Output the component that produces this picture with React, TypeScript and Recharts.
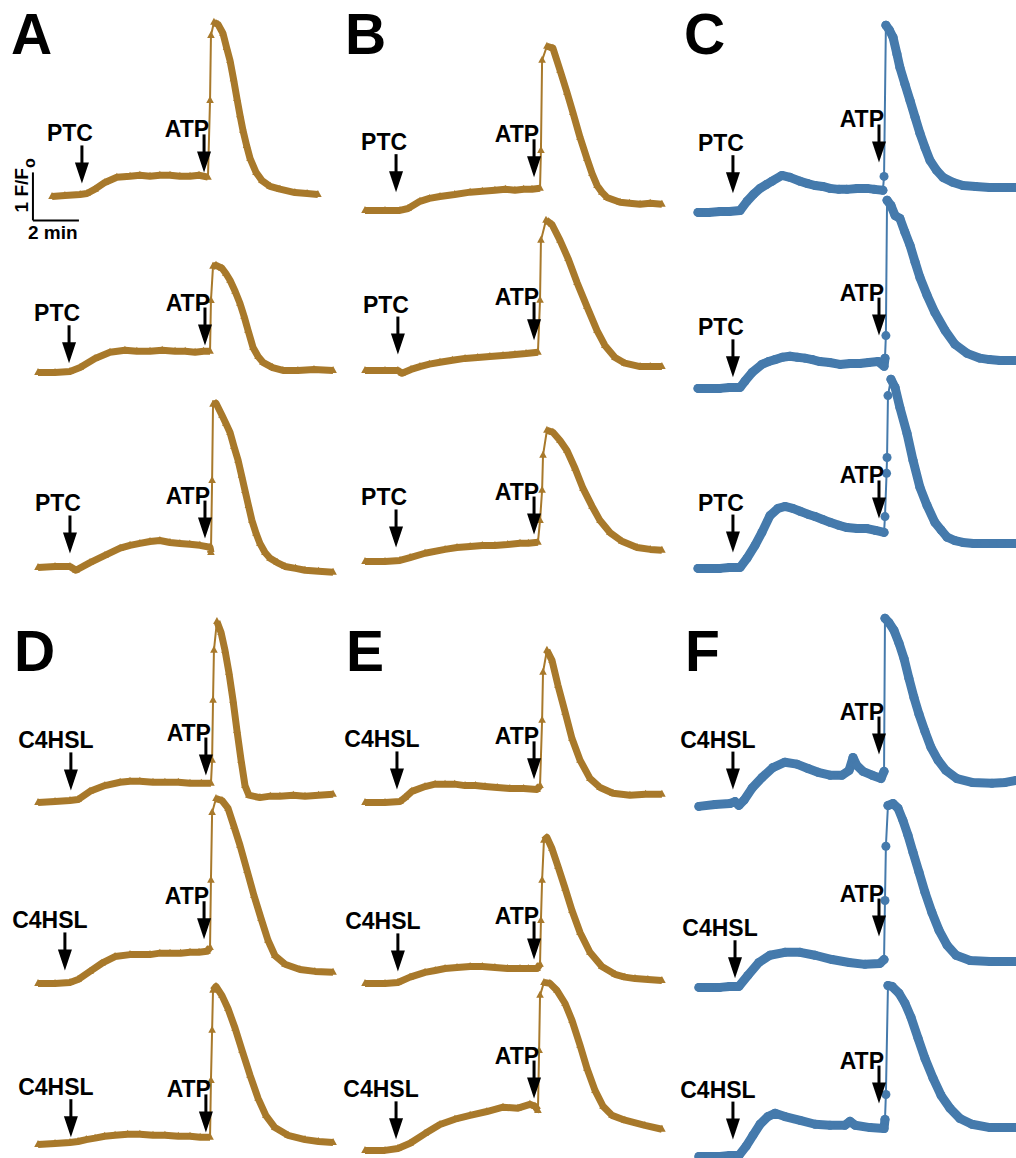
import { LineChart, Line, XAxis, YAxis, ReferenceDot, ReferenceLine } from "recharts";

type Pt = [number, number];

const GOLD = "#a8792b";
const BLUE = "#457aac";
const FONT = "'Liberation Sans', Arial, sans-serif";

// drawing scale: pixels per minute and per unit of F/Fo
const PX_MIN = 23;
const PX_F = 48;
const T_MIN = -2.0;
const T_MAX = 14.4;
const V_MIN = -1.2;
const V_MAX = 4.3;

// traces: [time (min), change in F/Fo]
const A1: Pt[] = [[0.61,0],[1.17,0.02],[1.83,0.04],[2.13,0.06],[2.48,0.15],[2.91,0.29],[3.43,0.4],[4.0,0.42],[4.43,0.44],[4.87,0.42],[5.3,0.44],[5.74,0.44],[6.17,0.42],[6.61,0.42],[7.0,0.44],[7.39,0.4],[7.48,2.0],[7.52,3.35],[7.65,3.63],[7.83,3.58],[8.04,3.4],[8.2,3.1],[8.35,2.83],[8.5,2.45],[8.65,2.04],[8.78,1.7],[8.91,1.38],[9.07,1.06],[9.22,0.79],[9.48,0.5],[9.74,0.33],[10.09,0.21],[10.52,0.15],[11.17,0.08],[11.7,0.06],[12.17,0.04]];
const A2: Pt[] = [[0,0],[0.74,0],[1.39,0.02],[1.83,0.1],[2.48,0.29],[3.13,0.42],[3.78,0.46],[4.3,0.44],[4.87,0.44],[5.4,0.46],[5.96,0.44],[6.4,0.44],[6.83,0.42],[7.2,0.44],[7.48,0.44],[7.52,1.5],[7.61,2.21],[7.74,2.23],[8.0,2.17],[8.17,2.06],[8.35,1.92],[8.57,1.69],[8.78,1.44],[8.96,1.17],[9.13,0.88],[9.35,0.52],[9.57,0.33],[9.78,0.21],[10.2,0.1],[10.65,0.04],[11.3,0.04],[12.0,0.06],[12.83,0.04]];
const A3: Pt[] = [[0,0],[0.74,0.02],[1.39,0.02],[1.65,-0.06],[2.26,0.1],[2.91,0.25],[3.57,0.4],[4.0,0.46],[4.43,0.5],[4.87,0.54],[5.3,0.56],[5.74,0.52],[6.17,0.5],[6.6,0.48],[7.04,0.46],[7.48,0.42],[7.52,0.31],[7.57,1.81],[7.61,3.4],[7.74,3.42],[8.0,3.17],[8.17,3.0],[8.35,2.81],[8.52,2.52],[8.7,2.23],[8.85,1.92],[9.0,1.6],[9.15,1.29],[9.3,0.98],[9.48,0.71],[9.65,0.5],[9.87,0.31],[10.09,0.19],[10.4,0.1],[10.74,0.02],[11.2,-0.02],[11.61,-0.06],[12.2,-0.08],[12.83,-0.1]];

const B1: Pt[] = [[0,0],[0.87,0],[1.52,0],[1.87,0.04],[2.39,0.19],[2.8,0.25],[3.26,0.29],[3.9,0.33],[4.57,0.38],[5.1,0.4],[5.65,0.42],[6.1,0.44],[6.52,0.42],[6.9,0.44],[7.26,0.44],[7.61,0.46],[7.65,1.25],[7.7,3.13],[7.91,3.42],[8.17,3.38],[8.48,2.92],[8.78,2.46],[9.04,2.04],[9.35,1.52],[9.65,1.08],[9.87,0.77],[10.09,0.52],[10.3,0.38],[10.52,0.27],[11.09,0.17],[11.5,0.15],[11.96,0.13],[12.4,0.15],[12.91,0.13]];
const B2: Pt[] = [[0,0],[0.87,0],[1.43,0],[1.61,-0.06],[2.0,0.02],[2.39,0.08],[2.8,0.13],[3.26,0.17],[3.8,0.21],[4.35,0.25],[4.9,0.27],[5.43,0.29],[6.0,0.31],[6.52,0.33],[7.0,0.35],[7.52,0.38],[7.61,1.46],[7.65,2.71],[7.87,3.13],[8.13,3.04],[8.48,2.71],[8.83,2.33],[9.22,1.83],[9.65,1.33],[10.09,0.83],[10.43,0.52],[10.87,0.27],[11.3,0.15],[11.96,0.08],[12.4,0.08],[12.91,0.08]];
const B3: Pt[] = [[0,0],[0.87,0],[1.52,0.02],[1.96,0.08],[2.61,0.17],[3.48,0.25],[4.0,0.29],[4.57,0.31],[5.1,0.33],[5.65,0.33],[6.2,0.35],[6.74,0.38],[7.1,0.38],[7.52,0.4],[7.61,0.85],[7.7,1.48],[7.74,2.21],[7.91,2.73],[8.17,2.69],[8.48,2.52],[8.78,2.31],[9.13,1.94],[9.48,1.52],[9.87,1.15],[10.22,0.85],[10.65,0.6],[11.17,0.42],[11.83,0.29],[12.4,0.25],[12.91,0.23]];

const C1: Pt[] = [[0.13,0],[0.6,0],[1.09,0.02],[1.5,0.02],[1.96,0.04],[2.26,0.23],[2.55,0.38],[2.83,0.5],[3.1,0.58],[3.35,0.65],[3.78,0.77],[4.13,0.73],[4.57,0.65],[4.9,0.6],[5.22,0.56],[5.55,0.54],[5.87,0.5],[6.25,0.48],[6.61,0.48],[7.05,0.5],[7.48,0.5],[7.8,0.48],[8.17,0.46],[8.22,0.75],[8.3,3.9],[8.45,3.8],[8.61,3.65],[8.78,3.3],[8.91,3.02],[9.13,2.67],[9.35,2.33],[9.57,1.98],[9.78,1.65],[10.0,1.35],[10.22,1.08],[10.5,0.88],[10.78,0.73],[11.2,0.63],[11.65,0.56],[12.2,0.54],[12.8,0.52],[13.4,0.52],[13.96,0.52]];
const C2: Pt[] = [[0.13,0],[0.6,0],[1.09,0],[1.5,0.02],[1.96,0.02],[2.17,0.15],[2.48,0.33],[2.91,0.5],[3.2,0.56],[3.48,0.6],[3.8,0.65],[4.13,0.67],[4.45,0.65],[4.78,0.63],[5.1,0.6],[5.43,0.56],[5.85,0.54],[6.3,0.5],[6.75,0.52],[7.17,0.52],[7.55,0.54],[7.96,0.56],[8.22,0.46],[8.26,0.63],[8.3,1.1],[8.35,3.92],[8.52,3.81],[8.7,3.6],[8.91,3.54],[9.13,3.25],[9.35,2.98],[9.57,2.63],[9.78,2.31],[10.09,1.94],[10.43,1.58],[10.87,1.21],[11.3,0.92],[11.83,0.73],[12.39,0.63],[12.8,0.6],[13.26,0.58],[13.96,0.58]];
const C3: Pt[] = [[0.13,0],[0.6,0],[1.09,0],[1.5,0.02],[1.96,0.02],[2.26,0.21],[2.61,0.48],[2.91,0.75],[3.26,1.1],[3.61,1.25],[3.91,1.29],[4.25,1.25],[4.57,1.19],[4.9,1.13],[5.22,1.08],[5.55,1.02],[5.87,0.96],[6.25,0.9],[6.61,0.85],[7.05,0.83],[7.48,0.83],[7.85,0.79],[8.22,0.75],[8.26,1.08],[8.33,1.98],[8.35,2.31],[8.39,3.6],[8.52,3.94],[8.7,3.77],[8.91,3.35],[9.22,2.81],[9.48,2.25],[9.78,1.69],[10.09,1.31],[10.43,0.96],[10.7,0.8],[10.96,0.65],[11.3,0.58],[11.65,0.54],[12.1,0.52],[12.61,0.52],[13.3,0.52],[13.96,0.52]];

const D1: Pt[] = [[0,0],[0.74,0.02],[1.39,0.04],[1.74,0.06],[2.26,0.23],[2.91,0.35],[3.57,0.42],[4.0,0.44],[4.43,0.44],[5.0,0.42],[5.52,0.42],[6.1,0.42],[6.61,0.4],[7.1,0.4],[7.52,0.4],[7.57,0.88],[7.61,2.13],[7.65,3.17],[7.78,3.77],[7.96,3.54],[8.13,3.17],[8.3,2.71],[8.48,2.13],[8.65,1.5],[8.83,0.88],[9.0,0.35],[9.17,0.15],[9.65,0.1],[10.1,0.13],[10.52,0.13],[11.1,0.15],[11.61,0.13],[12.2,0.15],[12.83,0.17]];
const D2: Pt[] = [[0,0],[0.74,0],[1.39,0.02],[1.74,0.08],[2.26,0.25],[2.78,0.42],[3.35,0.56],[4.0,0.6],[4.87,0.6],[5.3,0.63],[5.74,0.63],[6.2,0.63],[6.61,0.65],[7.0,0.65],[7.35,0.67],[7.48,0.75],[7.52,2.15],[7.57,3.56],[7.74,3.85],[8.0,3.81],[8.26,3.65],[8.52,3.27],[8.78,2.88],[9.09,2.35],[9.39,1.83],[9.7,1.35],[10.0,0.9],[10.3,0.58],[10.74,0.4],[11.39,0.29],[12.04,0.25],[12.83,0.23]];
const D3: Pt[] = [[0,0],[0.74,0.02],[1.39,0.04],[1.74,0.06],[2.1,0.1],[2.48,0.13],[2.9,0.17],[3.35,0.19],[3.9,0.21],[4.43,0.21],[5.0,0.19],[5.52,0.19],[6.1,0.17],[6.61,0.17],[7.05,0.15],[7.48,0.15],[7.52,1.33],[7.57,2.38],[7.61,3.21],[7.74,3.29],[8.0,3.1],[8.26,2.83],[8.57,2.42],[8.87,1.96],[9.22,1.44],[9.57,0.96],[9.91,0.6],[10.3,0.35],[10.87,0.19],[11.61,0.1],[12.2,0.06],[12.83,0.04]];

const E1: Pt[] = [[0,0],[0.87,0],[1.52,0.02],[1.74,0.1],[2.04,0.23],[2.61,0.33],[3.05,0.38],[3.48,0.38],[3.9,0.38],[4.35,0.35],[4.8,0.35],[5.22,0.33],[5.75,0.31],[6.3,0.29],[6.9,0.29],[7.48,0.27],[7.61,0.35],[7.7,1.71],[7.74,2.71],[7.91,3.17],[8.13,2.96],[8.39,2.44],[8.7,1.88],[9.0,1.33],[9.35,0.88],[9.78,0.5],[10.22,0.31],[10.78,0.19],[11.52,0.15],[12.2,0.17],[12.91,0.17]];
const E2: Pt[] = [[0,0],[0.87,0],[1.43,0.02],[1.96,0.13],[2.61,0.23],[3.05,0.27],[3.48,0.31],[4.0,0.33],[4.57,0.35],[5.1,0.35],[5.65,0.33],[6.2,0.31],[6.74,0.31],[7.1,0.31],[7.48,0.31],[7.61,0.4],[7.65,1.31],[7.7,2.15],[7.78,2.98],[7.91,3.04],[8.13,2.81],[8.39,2.44],[8.7,1.98],[9.0,1.52],[9.35,1.06],[9.78,0.65],[10.3,0.35],[10.87,0.19],[11.3,0.13],[11.74,0.1],[12.3,0.08],[12.91,0.06]];
const E3: Pt[] = [[0,0],[0.87,0],[1.43,0.04],[1.96,0.15],[2.61,0.35],[3.26,0.54],[3.91,0.65],[4.57,0.73],[5.3,0.81],[6.0,0.9],[6.65,0.88],[7.17,0.96],[7.39,0.92],[7.52,0.83],[7.57,2.08],[7.61,3.23],[7.78,3.5],[8.04,3.48],[8.35,3.33],[8.7,3.06],[9.0,2.71],[9.35,2.19],[9.65,1.71],[10.0,1.25],[10.35,0.92],[10.74,0.73],[11.3,0.63],[12.17,0.52],[12.91,0.44]];

const F1: Pt[] = [[0.17,0],[0.87,0.04],[1.52,0.06],[1.74,0.1],[1.91,0.02],[2.13,0.13],[2.48,0.38],[2.91,0.6],[3.39,0.81],[3.91,0.92],[4.43,0.88],[4.91,0.79],[5.35,0.71],[5.87,0.65],[6.39,0.65],[6.7,0.75],[6.87,1.02],[7.04,0.85],[7.3,0.73],[7.7,0.65],[8.09,0.58],[8.22,0.73],[8.26,3.92],[8.43,3.83],[8.65,3.67],[8.87,3.4],[9.09,3.08],[9.3,2.67],[9.52,2.27],[9.74,1.92],[10.0,1.56],[10.26,1.23],[10.57,0.96],[10.91,0.75],[11.39,0.58],[12.04,0.5],[12.91,0.48],[13.5,0.5],[13.96,0.54]];
const F2: Pt[] = [[0.17,0],[0.6,0],[1.09,0],[1.5,0.02],[1.91,0.02],[2.3,0.25],[2.78,0.52],[3.26,0.67],[3.91,0.73],[4.57,0.73],[5.22,0.67],[5.96,0.58],[6.7,0.52],[7.39,0.48],[8.04,0.5],[8.22,0.58],[8.26,1.81],[8.3,2.94],[8.39,3.79],[8.61,3.83],[8.83,3.73],[9.04,3.48],[9.26,3.17],[9.48,2.81],[9.74,2.4],[10.0,1.98],[10.3,1.56],[10.61,1.19],[10.96,0.88],[11.35,0.67],[11.96,0.56],[12.83,0.54],[13.4,0.54],[13.96,0.54]];
const F3: Pt[] = [[0.17,0],[0.6,0],[1.09,0],[1.5,0.02],[1.91,0.02],[2.22,0.21],[2.52,0.44],[2.83,0.67],[3.17,0.83],[3.48,0.9],[3.91,0.83],[4.57,0.75],[5.22,0.67],[5.87,0.65],[6.52,0.65],[6.74,0.73],[6.96,0.65],[7.61,0.6],[8.22,0.58],[8.26,0.77],[8.3,1.29],[8.39,3.56],[8.57,3.54],[8.87,3.4],[9.13,3.19],[9.39,2.9],[9.7,2.46],[10.0,2.04],[10.35,1.63],[10.7,1.27],[11.09,1.0],[11.52,0.79],[12.04,0.67],[12.83,0.6],[13.4,0.6],[13.96,0.6]];

// arrow tips: [time of addition, level of the arrow tip]
const A_AGENT: Pt[] = [[1.91,0.27],[1.35,0.19],[1.39,0.29]];
const A_ATP: Pt[] = [[7.22,0.5],[7.26,0.56],[7.26,0.6]];
const B_AGENT: Pt[] = [[1.35,0.38],[1.43,0.33],[1.35,0.29]];
const B_ATP: Pt[] = [[7.35,0.69],[7.35,0.63],[7.35,0.56]];
const C_AGENT: Pt[] = [[1.65,0.4],[1.65,0.23],[1.65,0.33]];
const C_ATP: Pt[] = [[8.0,1.04],[8.0,1.1],[8.0,1.04]];
const D_AGENT: Pt[] = [[1.43,0.25],[1.17,0.27],[1.43,0.15]];
const D_ATP: Pt[] = [[7.3,0.56],[7.22,0.92],[7.3,0.25]];
const E_AGENT: Pt[] = [[1.39,0.27],[1.43,0.25],[1.35,0.23]];
const E_ATP: Pt[] = [[7.35,0.48],[7.35,0.5],[7.35,1.08]];
const F_AGENT: Pt[] = [[1.65,0.35],[1.74,0.19],[1.65,0.35]];
const F_ATP: Pt[] = [[8.0,1.08],[8.0,1.06],[8.0,1.1]];

// scale bar corner (min, F/Fo) next to panel A, top trace
const SCALE_CORNER: Pt = [-0.22, -0.5];

const PANELS = [
  { letter: "A", lx: 11, ly: 54, ox: 38, rows: [196, 372, 567], traces: [A1, A2, A3], agentName: "PTC", agent: A_AGENT, atp: A_ATP, color: GOLD },
  { letter: "B", lx: 345, ly: 54, ox: 365, rows: [210, 370, 561], traces: [B1, B2, B3], agentName: "PTC", agent: B_AGENT, atp: B_ATP, color: GOLD },
  { letter: "C", lx: 684, ly: 54, ox: 695, rows: [212, 388, 568], traces: [C1, C2, C3], agentName: "PTC", agent: C_AGENT, atp: C_ATP, color: BLUE },
  { letter: "D", lx: 14, ly: 671, ox: 38, rows: [802, 983, 1144], traces: [D1, D2, D3], agentName: "C4HSL", agent: D_AGENT, atp: D_ATP, color: GOLD },
  { letter: "E", lx: 346, ly: 671, ox: 365, rows: [802, 983, 1150], traces: [E1, E2, E3], agentName: "C4HSL", agent: E_AGENT, atp: E_ATP, color: GOLD },
  { letter: "F", lx: 685, ly: 671, ox: 695, rows: [806, 987, 1156], traces: [F1, F2, F3], agentName: "C4HSL", agent: F_AGENT, atp: F_ATP, color: BLUE },
];

const W = (T_MAX - T_MIN) * PX_MIN;
const H = (V_MAX - V_MIN) * PX_F;

const toRows = (pts: Pt[]) => pts.map(([t, v]) => ({ t, v }));

// thick band before and after the ATP jump, the jump itself stays thin
function splitAtJump(pts: Pt[]) {
  let iMax = 0;
  let best = -Infinity;
  for (let i = 0; i < pts.length - 1; i++) {
    const d = pts[i + 1][1] - pts[i][1];
    if (d > best) {
      best = d;
      iMax = i;
    }
  }
  let a = iMax;
  while (a > 0 && pts[a][1] - pts[a - 1][1] > 0.2) a--;
  let b = iMax + 1;
  while (b < pts.length - 1 && pts[b + 1][1] - pts[b][1] > 0.2) b++;
  return { pre: pts.slice(0, a + 1), post: pts.slice(b) };
}

const labelStyle = { fontFamily: FONT, fontWeight: 700, fontSize: 23 } as const;

const arrowShape = (label: string, isAtp: boolean) => (p: any) => {
  const { cx, cy } = p;
  const tx = isAtp ? cx + 5 : cx - (label.length > 3 ? 15 : 12);
  const ty = isAtp ? cy - 35 : cy - 42;
  return (
    <g>
      <text x={tx} y={ty} textAnchor={isAtp ? "end" : "middle"} fill="#000" {...labelStyle}>
        {label}
      </text>
      <line x1={cx} y1={cy - 38} x2={cx} y2={cy - 16} stroke="#000" strokeWidth={3} />
      <polygon points={`${cx - 7},${cy - 21} ${cx + 7},${cy - 21} ${cx},${cy}`} fill="#000" />
    </g>
  );
};

const scaleText = (p: any) => {
  const { cx, cy } = p;
  return (
    <g>
      <text transform={`translate(${cx - 5},${cy - 8}) rotate(-90)`} fill="#000" fontFamily={FONT} fontWeight={700} fontSize={19}>
        1 F/F<tspan dy={7} fontSize={16}>o</tspan>
      </text>
      <text x={cx - 5} y={cy + 19} fill="#000" fontFamily={FONT} fontWeight={700} fontSize={19}>
        2 min
      </text>
    </g>
  );
};

const triangle = (color: string) => (p: any) => {
  const { cx, cy, index } = p;
  if (cx == null || cy == null) return <g key={`e${index}`} />;
  return <path key={`m${index}`} d={`M${cx},${cy - 4.5}L${cx + 3.8},${cy + 2.5}L${cx - 3.8},${cy + 2.5}Z`} fill={color} />;
};

type TraceProps = {
  pts: Pt[];
  color: string;
  left: number;
  top: number;
  agentName: string;
  agent: Pt;
  atp: Pt;
};

const Trace = ({ pts, color, left, top, agentName, agent, atp }: TraceProps) => {
  const { pre, post } = splitAtJump(pts);
  const blue = color === BLUE;
  const band = blue ? 9 : 7;
  const cap = blue ? "round" : "butt";
  return (
    <div style={{ position: "absolute", left, top, width: W, height: H }}>
      <LineChart width={W} height={H} margin={{ top: 0, right: 0, bottom: 0, left: 0 }}>
        <XAxis type="number" dataKey="t" domain={[T_MIN, T_MAX]} allowDataOverflow hide />
        <YAxis type="number" dataKey="v" domain={[V_MIN, V_MAX]} allowDataOverflow hide />
        <Line data={toRows(pre)} dataKey="v" type="linear" stroke={color} strokeWidth={band} strokeLinejoin="round" strokeLinecap={cap} dot={false} activeDot={false} isAnimationActive={false} />
        <Line data={toRows(post)} dataKey="v" type="linear" stroke={color} strokeWidth={band} strokeLinejoin="round" strokeLinecap={cap} dot={false} activeDot={false} isAnimationActive={false} />
        <Line
          data={toRows(pts)}
          dataKey="v"
          type="linear"
          stroke={color}
          strokeWidth={2}
          dot={blue ? { r: 4.5, fill: color, stroke: "none", strokeWidth: 0 } : triangle(color)}
          activeDot={false}
          isAnimationActive={false}
        />
        <ReferenceDot x={agent[0]} y={agent[1]} r={0} shape={arrowShape(agentName, false)} />
        <ReferenceDot x={atp[0]} y={atp[1]} r={0} shape={arrowShape("ATP", true)} />
      </LineChart>
    </div>
  );
};

// scale bar drawn on the same scales as panel A's top trace
const ScaleBar = ({ left, top }: { left: number; top: number }) => (
  <div style={{ position: "absolute", left, top, width: W, height: H }}>
    <LineChart width={W} height={H} margin={{ top: 0, right: 0, bottom: 0, left: 0 }}>
      <XAxis type="number" dataKey="t" domain={[T_MIN, T_MAX]} allowDataOverflow hide />
      <YAxis type="number" dataKey="v" domain={[V_MIN, V_MAX]} allowDataOverflow hide />
      <ReferenceLine
        segment={[
          { x: SCALE_CORNER[0], y: SCALE_CORNER[1] + 1 },
          { x: SCALE_CORNER[0], y: SCALE_CORNER[1] },
        ]}
        stroke="#000"
        strokeWidth={2}
      />
      <ReferenceLine
        segment={[
          { x: SCALE_CORNER[0], y: SCALE_CORNER[1] },
          { x: SCALE_CORNER[0] + 2, y: SCALE_CORNER[1] },
        ]}
        stroke="#000"
        strokeWidth={2}
      />
      <ReferenceDot x={SCALE_CORNER[0]} y={SCALE_CORNER[1]} r={0} shape={scaleText} />
    </LineChart>
  </div>
);

export default function App() {
  return (
    <div style={{ position: "absolute", left: 0, top: 0, width: 1016, height: 1158, overflow: "hidden", background: "#fff" }}>
      {PANELS.map((panel) =>
        panel.traces.map((pts, k) => (
          <Trace
            key={`${panel.letter}${k}`}
            pts={pts}
            color={panel.color}
            left={panel.ox + T_MIN * PX_MIN}
            top={panel.rows[k] - V_MAX * PX_F}
            agentName={panel.agentName}
            agent={panel.agent[k]}
            atp={panel.atp[k]}
          />
        ))
      )}
      <ScaleBar left={PANELS[0].ox + T_MIN * PX_MIN} top={PANELS[0].rows[0] - V_MAX * PX_F} />
      <svg width={1016} height={1158} style={{ position: "absolute", left: 0, top: 0, pointerEvents: "none" }}>
        {PANELS.map((panel) => (
          <text key={panel.letter} x={panel.lx} y={panel.ly} fontFamily={FONT} fontWeight={700} fontSize={57} fill="#000">
            {panel.letter}
          </text>
        ))}
      </svg>
    </div>
  );
}
